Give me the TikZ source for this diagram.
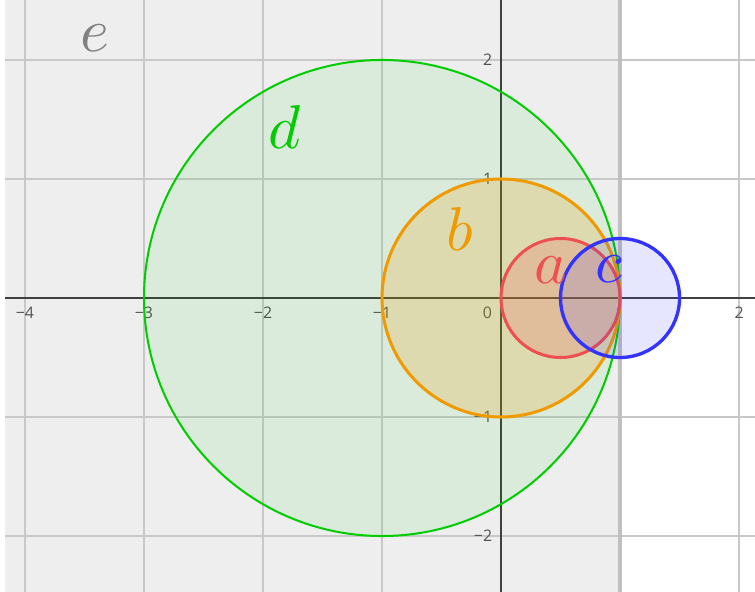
\documentclass[tikz,border=0pt]{standalone}
\usepackage{fontspec}
\setsansfont{Open Sans}
\definecolor{regiongray}{HTML}{EEEEEE}
\definecolor{gridcol}{HTML}{C8C8C8}
\definecolor{boundcol}{HTML}{C0C0C0}
\definecolor{axiscol}{HTML}{404040}
\definecolor{tickcol}{HTML}{505050}
\definecolor{dgreen}{HTML}{00CC00}
\definecolor{borange}{HTML}{EE9A00}
\definecolor{ared}{HTML}{EC5050}
\definecolor{cblue}{HTML}{3333FF}
\definecolor{egray}{HTML}{808080}
\newcommand{\biglet}[1]{\scalebox{3.7}{$#1$}}
\begin{document}
\begin{tikzpicture}[x=2.5cm,y=2.5cm,
  gridline/.style={draw=gridcol,line width=0.9pt},
  axisline/.style={draw=axiscol,line width=0.75pt},
  boundline/.style={draw=boundcol,line width=2.1pt},
  ticklab/.style={text=tickcol,font=\sffamily\fontsize{9.5}{11}\selectfont,inner sep=0pt},
  biglab/.style={inner sep=0pt,font=\fontsize{10}{12}\selectfont}]
\useasboundingbox (-4.21,-2.47) rectangle (2.134,2.504);
% region e : x <= 1
\fill[regiongray] (-4.168,-2.47) rectangle (1,2.504);
% grid
\foreach \x in {-4,...,2} \draw[gridline] (\x,-2.47) -- (\x,2.504);
\foreach \y in {-2,...,2} \draw[gridline] (-4.168,\y) -- (2.134,\y);
% axes
\coordinate (xl) at (-4.168,0);
\coordinate (xr) at (2.134,0);
\coordinate (yb) at (0,-2.47);
\coordinate (yt) at (0,2.504);
\draw[axisline] (xl) -- (xr);
\draw[axisline] (yb) -- (yt);
% tick labels
\foreach \x/\t in {-4/−4,-3/−3,-2/−2,-1/−1,1/1,2/2}
  \node[ticklab] (tx\x) at (\x,-0.126) {\t};
\node[ticklab] (t0) at (-0.115,-0.126) {0};
\foreach \y/\t in {-2/−2,-1/−1,1/1,2/2}
  \node[ticklab,anchor=east] (ty\y) at (-0.072,\y) {\t};
% boundary of e
\coordinate (bb) at (1,-2.47);
\coordinate (bt) at (1,2.504);
\draw[boundline] (bb) -- (bt);
% circles
\draw[dgreen,line width=1.2pt,fill=dgreen,fill opacity=0.08] (-1,0) circle (2);
\draw[borange,line width=1.8pt,fill=borange,fill opacity=0.2] (0,0) circle (1);
\draw[ared,line width=1.8pt,fill=ared,fill opacity=0.2] (0.5,0) circle (0.5);
\draw[cblue,line width=2pt,fill=cblue,fill opacity=0.12] (1,0) circle (0.5);
% labels
\node[biglab,text=egray] (le) at (-3.41,2.18) {\biglet{e}};
\node[biglab,text=dgreen] (ld) at (-1.82,1.44) {\biglet{d}};
\node[biglab,text=borange] (lb) at (-0.345,0.58) {\biglet{b}};
\node[biglab,text=ared] (la) at (0.42,0.235) {\biglet{a}};
\node[biglab,text=cblue] (lc) at (0.91,0.244) {\biglet{c}};
\end{tikzpicture}
\end{document}
